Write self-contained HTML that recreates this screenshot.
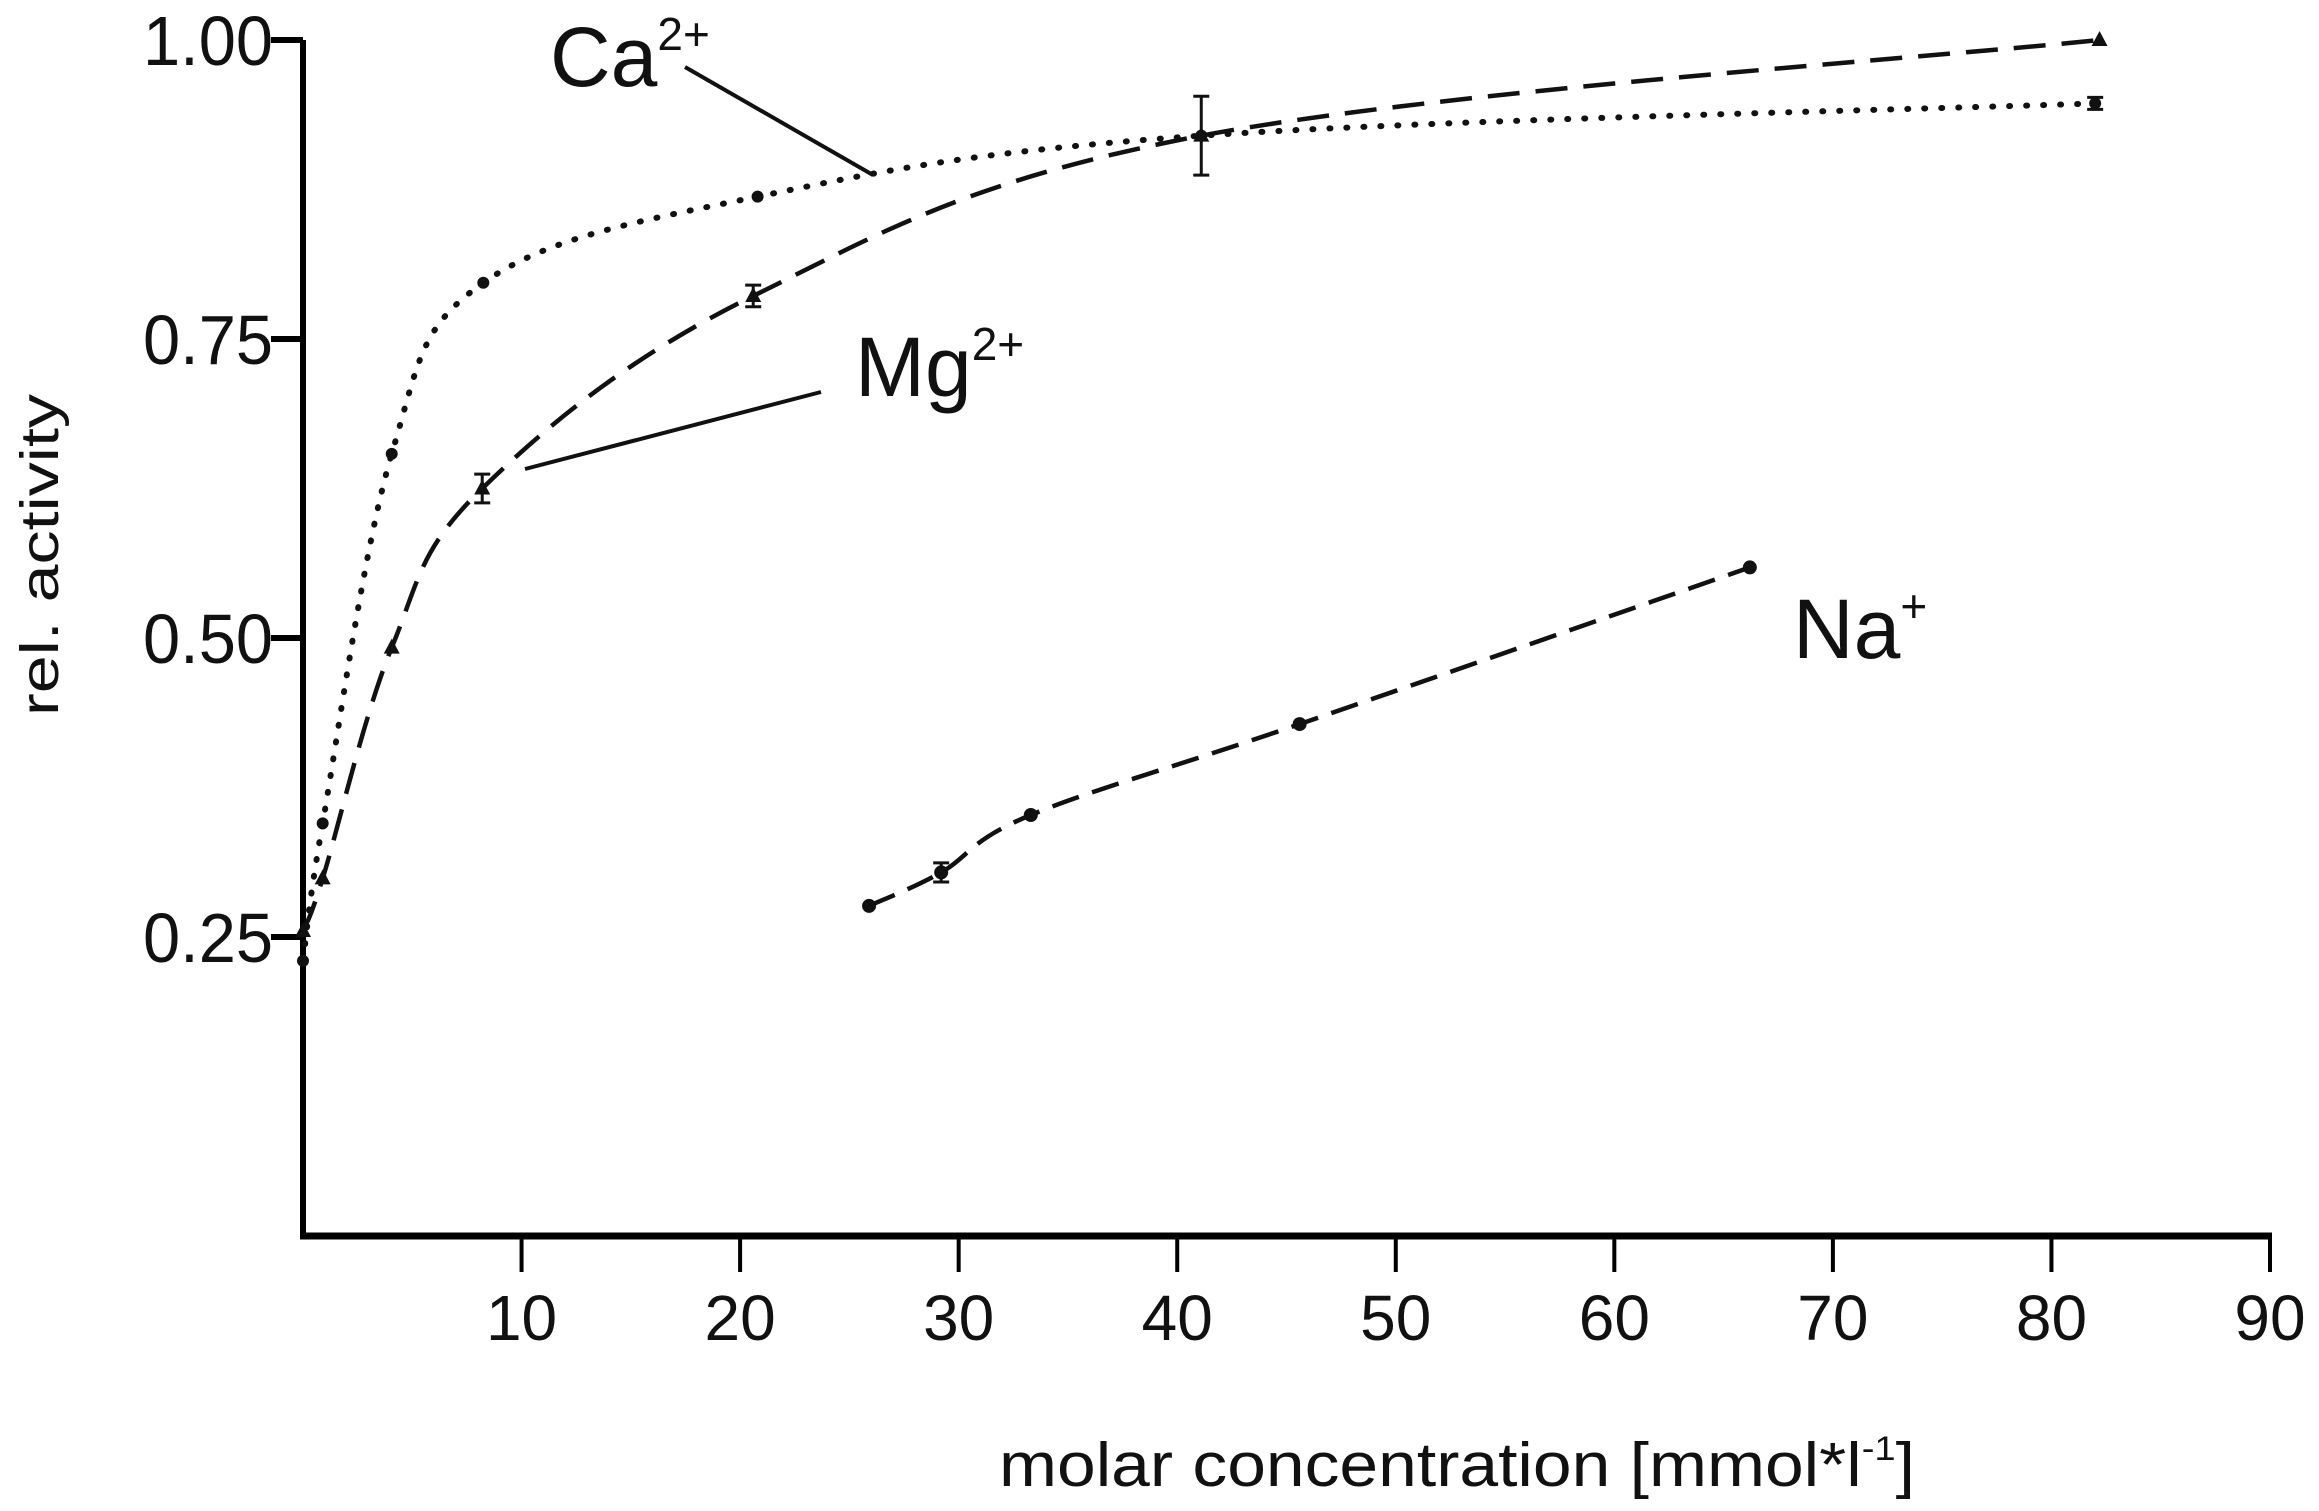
<!DOCTYPE html>
<html><head><meta charset="utf-8">
<style>
html,body{margin:0;padding:0;background:#fff;}
svg{display:block;}
text{font-family:"Liberation Sans",Arial,sans-serif;fill:#111;}
</style></head>
<body>
<svg id="chart" width="2319" height="1511" viewBox="0 0 2319 1511" xmlns="http://www.w3.org/2000/svg">
<g id="axes"></g>
<g id="series"></g>
<g id="labels">
  <text x="550" y="86" font-size="84">Ca<tspan font-size="46" dy="-36">2+</tspan></text>
  <line x1="685" y1="67" x2="873" y2="175" stroke="#111" stroke-width="4"/>
  <text x="855" y="396" font-size="84">Mg<tspan font-size="46" dy="-36">2+</tspan></text>
  <line x1="821" y1="392" x2="525" y2="469" stroke="#111" stroke-width="4"/>
  <text x="1793" y="658" font-size="84">Na<tspan font-size="46" dy="-36">+</tspan></text>
  <text transform="translate(58,555) rotate(-90)" text-anchor="middle" font-size="54" textLength="322" lengthAdjust="spacingAndGlyphs">rel. activity</text>
  <text x="1457" y="1486" text-anchor="middle" font-size="62" textLength="916" lengthAdjust="spacingAndGlyphs">molar concentration [mmol*l<tspan font-size="34" dy="-26">-1</tspan><tspan dy="26">]</tspan></text>
</g>
</svg>
<script>
const xTicks=[10,20,30,40,50,60,70,80,90];
const yTicks=[0.25,0.5,0.75,1.0];
const yTickLabels=["0.25","0.50","0.75","1.00"];
const caX=[0,0.9,4.06,8.25,20.8,41.1,82];
const caY=[0.23,0.345,0.654,0.797,0.869,0.920,0.947];
const caErr=[0,0,0,0,0,0,0.005];
const mgX=[0,0.9,4.06,8.2,20.6,41.1,82.2];
const mgY=[0.255,0.299,0.492,0.625,0.786,0.92,1.0];
const mgErr=[0,0,0,0.012,0.009,0.033,0];
const naX=[25.9,29.2,33.3,45.6,66.2];
const naY=[0.276,0.304,0.352,0.428,0.559];
const naErr=[0,0.008,0,0,0];

const X0=303,X1=2270,XMAX=90,Y0=1236,Y1=40;
const sx=v=>X0+(X1-X0)*v/XMAX;
const sy=v=>Y0-(Y0-Y1)*v;
const NS="http://www.w3.org/2000/svg";
function mk(tag,attrs,parent){const e=document.createElementNS(NS,tag);for(const k in attrs)e.setAttribute(k,attrs[k]);parent.appendChild(e);return e;}
const axes=document.getElementById('axes');
const ser=document.getElementById('series');

let yl=mk('line',{x1:X0,y1:Y1,x2:X0,y2:Y0+2,stroke:'#000','stroke-width':6},axes);


let xl=mk('line',{x1:X0-3,y1:Y0,x2:X1+2,y2:Y0,stroke:'#000','stroke-width':7},axes);


xTicks.forEach(t=>{
  const tk=mk('line',{x1:sx(t),y1:Y0,x2:sx(t),y2:Y0+36,stroke:'#000','stroke-width':4},axes);
  
  
  const tl=mk('text',{x:sx(t),y:Y0+104,'text-anchor':'middle','font-size':64},axes);
  
  
  tl.textContent=String(t);
});
yTicks.forEach((t,i)=>{
  const tk=mk('line',{x1:X0-32,y1:sy(t),x2:X0,y2:sy(t),stroke:'#000','stroke-width':6},axes);
  
  
  const tl=mk('text',{x:X0-22-8,y:sy(t)+25,'text-anchor':'end','font-size':70,textLength:130,lengthAdjust:'spacingAndGlyphs'},axes);
  
  
  tl.textContent=yTickLabels[i];
});

function smoothPath(xs,ys){
  const p=xs.map((x,i)=>[sx(x),sy(ys[i])]);
  let d='M'+p[0][0]+','+p[0][1];
  for(let i=0;i<p.length-1;i++){
    const p0=p[Math.max(0,i-1)],p1=p[i],p2=p[i+1],p3=p[Math.min(p.length-1,i+2)];
    const t=0.35;
    const c1=[p1[0]+(p2[0]-p0[0])*t*0.5,p1[1]+(p2[1]-p0[1])*t*0.5];
    const c2=[p2[0]-(p3[0]-p1[0])*t*0.5,p2[1]-(p3[1]-p1[1])*t*0.5];
    d+=' C'+c1[0]+','+c1[1]+' '+c2[0]+','+c2[1]+' '+p2[0]+','+p2[1];
  }
  return d;
}
function drawSeries(name,xs,ys,errs,dash,width,cap,marker){
  const g=mk('g',{},ser);
  
  
  const path=mk('path',{d:smoothPath(xs,ys),fill:'none',stroke:'#111','stroke-width':width,'stroke-dasharray':dash,'stroke-linecap':cap},g);
  
  
  xs.forEach((x,i)=>{
    const cx=sx(x),cy=sy(ys[i]);
    const e=errs[i]*(Y0-Y1);
    if(e>3){
      const eb=mk('path',{d:`M${cx},${cy-e}V${cy+e}M${cx-8},${cy-e}H${cx+8}M${cx-8},${cy+e}H${cx+8}`,stroke:'#111','stroke-width':3,fill:'none'},g);
      
      
    }
    let m;
    if(marker==='tri') m=mk('path',{d:`M${cx},${cy-9}L${cx+8},${cy+6}L${cx-8},${cy+6}Z`,fill:'#111'},g);
    else m=mk('circle',{cx:cx,cy:cy,r:marker==='small'?6:7,fill:'#111'},g);
    
    
  });
}
drawSeries('ca',caX,caY,caErr,'1 16',6,'round','small');
drawSeries('mg',mgX,mgY,mgErr,'32 16',4.5,'butt','tri');
drawSeries('na',naX,naY,naErr,'28 14',4.5,'butt','circle');
</script>
</body></html>
